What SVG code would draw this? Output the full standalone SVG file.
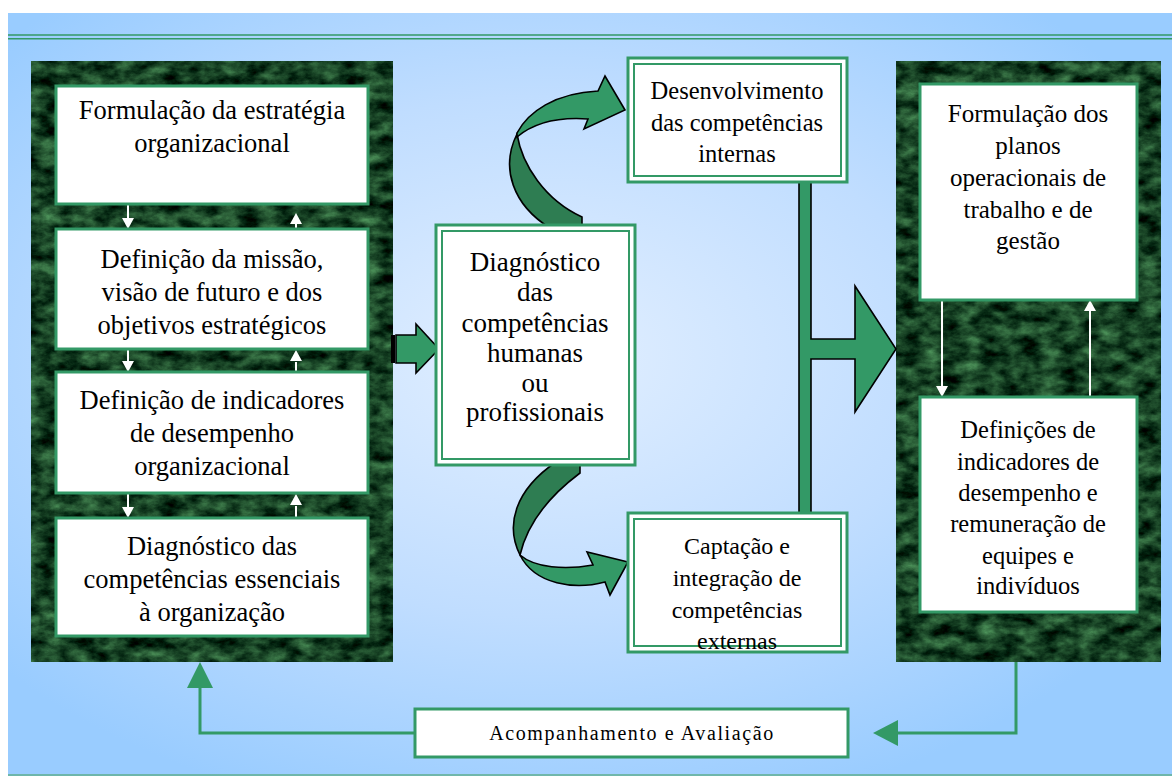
<svg xmlns="http://www.w3.org/2000/svg" width="1172" height="776" viewBox="0 0 1172 776">
<defs>
<radialGradient id="bg" cx="0.46" cy="0.45" r="0.62">
<stop offset="0" stop-color="#E2EFFF"/>
<stop offset="0.55" stop-color="#C0DDFF"/>
<stop offset="1" stop-color="#99CCFF"/>
</radialGradient>
<filter id="marble" x="0" y="0" width="1" height="1" color-interpolation-filters="sRGB">
<feTurbulence type="fractalNoise" baseFrequency="0.05 0.08" numOctaves="5" seed="11" result="n"/>
<feColorMatrix in="n" type="matrix" values="0.5 0 0 0 -0.16  0.75 0 0 0 -0.12  0.5 0 0 0 -0.11  0 0 0 0 1" result="c"/>
<feComposite in="c" in2="SourceGraphic" operator="in"/>
</filter>
<style>
.t{font-family:"Liberation Serif","Times New Roman",serif;font-size:24px;fill:#000;text-anchor:middle}
.l{font-size:26.5px}
.d{font-size:27px}
.m{font-size:25px}
.n{font-size:24.5px}
.s{font-size:20px;letter-spacing:1.6px}
.box{fill:#fff;stroke:#339966;stroke-width:3}
.dbo{fill:#fff;stroke:#339966;stroke-width:3}
.dbi{fill:none;stroke:#339966;stroke-width:2}
.panel{fill:#1F5230}
.wl{stroke:#fff;stroke-width:2;fill:none}
.wh{fill:#fff}
.gl{stroke:#339966;stroke-width:3;fill:none}
.gh{fill:#339966}
.big{fill:#339966;stroke:#000;stroke-width:1.6;stroke-linejoin:miter}
.dark{fill:#2E7D52;stroke:#000;stroke-width:1.6}
</style>
</defs>
<rect width="1172" height="776" fill="#fff"/>
<rect x="8" y="13" width="1164" height="763" fill="url(#bg)"/>
<line x1="8" y1="35" x2="1172" y2="35" stroke="#339966" stroke-width="1.6"/>
<line x1="8" y1="38.8" x2="1172" y2="38.8" stroke="#339966" stroke-width="1.6"/>
<line x1="8" y1="775" x2="1172" y2="775" stroke="#5FAF8F" stroke-width="1.5"/>

<g id="left-panel">
<rect class="panel" x="31" y="61" width="362" height="601" filter="url(#marble)"/>
</g>
<g id="right-panel">
<rect class="panel" x="896" y="61" width="265" height="601" filter="url(#marble)"/>
</g>

<g id="connectors">
<path class="dark" d="M556,462 L580,462 L580,473 C548,497 527,525 520,555 C505,525 515,490 556,462 Z"/>
<path class="dark" d="M517,134 C522,165 545,200 582,217 L582,228 L550,228 C513,205 500,168 517,134 Z"/>
<path class="big" d="M517,133 C528,112 555,93 598,91 L605,76 L625,110 L584,129 L588,119 C560,117 535,122 517,137 Z"/>
<path class="big" d="M520,555 C535,568 565,570 593,565 L587,552 L628,562 L610,595 L605,582 C575,590 535,585 520,555 Z"/>
<path class="big" d="M799,181 H811 V339 H855 V286 L896,349 L855,412 V359 H811 V517 H799 Z"/>
<rect x="391" y="335" width="4" height="28" fill="#000"/>
<path class="big" d="M396,335 H416 V324 L439,349 L416,373 V363 H396 Z"/>
<line class="wl" x1="128" y1="204" x2="128" y2="220"/><polygon class="wh" points="122,218 134,218 128,229"/>
<line class="wl" x1="296" y1="229" x2="296" y2="222"/><polygon class="wh" points="290,224 302,224 296,213"/>
<line class="wl" x1="128" y1="349" x2="128" y2="363"/><polygon class="wh" points="122,361 134,361 128,372"/>
<line class="wl" x1="296" y1="372" x2="296" y2="362"/><polygon class="wh" points="290,361 302,361 296,350"/>
<line class="wl" x1="128" y1="493" x2="128" y2="509"/><polygon class="wh" points="122,507 134,507 128,518"/>
<line class="wl" x1="296" y1="518" x2="296" y2="506"/><polygon class="wh" points="290,505 302,505 296,494"/>
<line class="wl" x1="942" y1="300" x2="942" y2="388"/><polygon class="wh" points="936,386 948,386 942,397"/>
<line class="wl" x1="1090" y1="397" x2="1090" y2="310"/><polygon class="wh" points="1084,311 1096,311 1090,300"/>
<path class="gl" d="M415,733 H200 V686"/><polygon class="gh" points="187,688 213,688 200,662"/>
<path class="gl" d="M1016,662 V733 H896"/><polygon class="gh" points="898,720 898,746 873,733"/>
</g>

<g id="box-formulacao">
<rect class="box" x="56" y="86" width="312" height="118"/>
<text class="t l" x="212" y="119">Formulação da estratégia</text>
<text class="t l" x="212" y="152">organizacional</text>
</g>
<g id="box-missao">
<rect class="box" x="56" y="229" width="312" height="120"/>
<text class="t l" x="212" y="268">Definição da missão,</text>
<text class="t l" x="212" y="301">visão de futuro e dos</text>
<text class="t l" x="212" y="334">objetivos estratégicos</text>
</g>
<g id="box-indicadores">
<rect class="box" x="56" y="372" width="312" height="121"/>
<text class="t l" x="212" y="409">Definição de indicadores</text>
<text class="t l" x="212" y="442">de desempenho</text>
<text class="t l" x="212" y="475">organizacional</text>
</g>
<g id="box-essenciais">
<rect class="box" x="56" y="518" width="312" height="118"/>
<text class="t l" x="212" y="555">Diagnóstico das</text>
<text class="t l" x="212" y="588">competências essenciais</text>
<text class="t l" x="212" y="621">à organização</text>
</g>

<g id="box-diagnostico">
<rect class="dbo" x="436" y="225" width="199" height="240"/>
<rect class="dbi" x="442" y="231" width="187" height="228"/>
<text class="t d" x="535" y="271">Diagnóstico</text>
<text class="t d" x="535" y="301">das</text>
<text class="t d" x="535" y="332">competências</text>
<text class="t d" x="535" y="362">humanas</text>
<text class="t d" x="535" y="392">ou</text>
<text class="t d" x="535" y="421">profissionais</text>
</g>
<g id="box-desenvolvimento">
<rect class="dbo" x="628" y="58" width="219" height="124"/>
<rect class="dbi" x="634" y="64" width="207" height="112"/>
<text class="t n" x="737" y="99">Desenvolvimento</text>
<text class="t n" x="737" y="131">das competências</text>
<text class="t n" x="737" y="162">internas</text>
</g>
<g id="box-captacao">
<rect class="dbo" x="628" y="513" width="219" height="139"/>
<rect class="dbi" x="634" y="519" width="207" height="127"/>
<text class="t" x="737" y="554">Captação e</text>
<text class="t" x="737" y="586">integração de</text>
<text class="t" x="737" y="618">competências</text>
<text class="t" x="737" y="649">externas</text>
</g>

<g id="box-planos">
<rect class="box" x="920" y="84" width="217" height="216"/>
<text class="t m" x="1028" y="122">Formulação dos</text>
<text class="t m" x="1028" y="154">planos</text>
<text class="t m" x="1028" y="186">operacionais de</text>
<text class="t m" x="1028" y="218">trabalho e de</text>
<text class="t m" x="1028" y="249">gestão</text>
</g>
<g id="box-definicoes">
<rect class="box" x="920" y="397" width="217" height="215"/>
<text class="t n" x="1028" y="438">Definições de</text>
<text class="t n" x="1028" y="470">indicadores de</text>
<text class="t n" x="1028" y="501">desempenho e</text>
<text class="t n" x="1028" y="532">remuneração de</text>
<text class="t n" x="1028" y="564">equipes e</text>
<text class="t n" x="1028" y="594">indivíduos</text>
</g>

<g id="box-acompanhamento">
<rect class="box" x="415" y="709" width="433" height="48"/>
<text class="t s" x="632" y="740">Acompanhamento e Avaliação</text>
</g>
</svg>
